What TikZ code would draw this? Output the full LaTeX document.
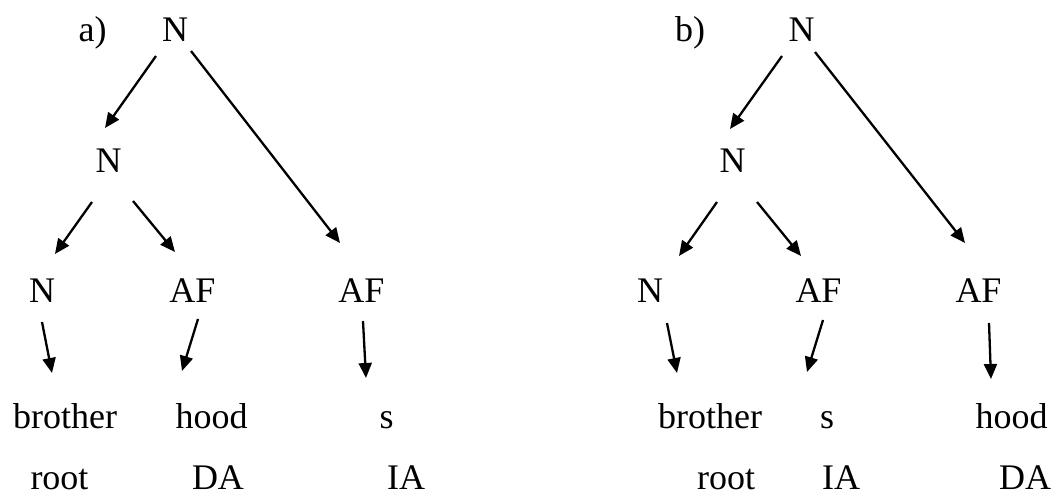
\documentclass[tikz,border=0pt]{standalone}
\usepackage{fontspec}
\setmainfont{Liberation Serif}
\usetikzlibrary{arrows.meta,calc}
\begin{document}
\begin{tikzpicture}[x=1pt,y=1pt,
  lbl/.style={anchor=base,inner sep=0pt,font=\fontsize{36}{40}\selectfont},
  arr/.style={line width=2.3pt,-{Triangle[length=15pt,width=13pt]}}]
\useasboundingbox (0,0) rectangle (1056,-497);
% ---- a)
\node[lbl] (la) at (92.5,-42) {a)};
\node[lbl] (ra) at (175,-42) {N};
\node[lbl] (ma) at (108.5,-172) {N};
\node[lbl] (na) at (42,-302) {N};
\node[lbl] (fa1) at (192.5,-302) {AF};
\node[lbl] (fa2) at (361.5,-302) {AF};
\node[lbl] (wa1) at (65,-428) {brother};
\node[lbl] (wa2) at (211.5,-428) {hood};
\node[lbl] (wa3) at (386.5,-428) {s};
\node[lbl] (ta1) at (59.5,-489) {root};
\node[lbl] (ta2) at (218,-489) {DA};
\node[lbl] (ta3) at (406,-489) {IA};
\draw[arr] ($(ra.base)+(-19,-14)$) -- ($(ma.base)+(-3.5,44)$);
\draw[arr] ($(ra.base)+(16,-9)$) -- ($(fa2.base)+(-21.5,59)$);
\draw[arr] ($(ma.base)+(-16.5,-30)$) -- ($(na.base)+(13,48)$);
\draw[arr] ($(ma.base)+(24.5,-29)$) -- ($(fa1.base)+(-17.5,50)$);
\draw[arr] ($(na.base)+(0,-20)$) -- ($(wa1.base)+(-13,55)$);
\draw[arr] ($(fa1.base)+(5.5,-17)$) -- ($(wa2.base)+(-29.5,57)$);
\draw[arr] ($(fa2.base)+(1.5,-19)$) -- ($(wa3.base)+(-20.5,50)$);
% ---- b)
\node[lbl] (lb) at (690,-42) {b)};
\node[lbl] (rb) at (801.5,-42) {N};
\node[lbl] (mb) at (732.5,-172) {N};
\node[lbl] (nb) at (650,-302) {N};
\node[lbl] (fb1) at (818.5,-302) {AF};
\node[lbl] (fb2) at (978.5,-302) {AF};
\node[lbl] (wb1) at (710,-428) {brother};
\node[lbl] (wb2) at (827,-428) {s};
\node[lbl] (wb3) at (1011.5,-428) {hood};
\node[lbl] (tb1) at (726,-489) {root};
\node[lbl] (tb2) at (841,-489) {IA};
\node[lbl] (tb3) at (1025,-489) {DA};
\draw[arr] ($(rb.base)+(-19.5,-14)$) -- ($(mb.base)+(-2.5,43)$);
\draw[arr] ($(rb.base)+(13.5,-10)$) -- ($(fb2.base)+(-13.5,59)$);
\draw[arr] ($(mb.base)+(-15.5,-30)$) -- ($(nb.base)+(29,46)$);
\draw[arr] ($(mb.base)+(24.5,-30)$) -- ($(fb1.base)+(-17.5,46)$);
\draw[arr] ($(nb.base)+(17,-21)$) -- ($(wb1.base)+(-33,55)$);
\draw[arr] ($(fb1.base)+(4.5,-18)$) -- ($(wb2.base)+(-20,56)$);
\draw[arr] ($(fb2.base)+(10.5,-21)$) -- ($(wb3.base)+(-20.5,49)$);
\end{tikzpicture}
\end{document}
